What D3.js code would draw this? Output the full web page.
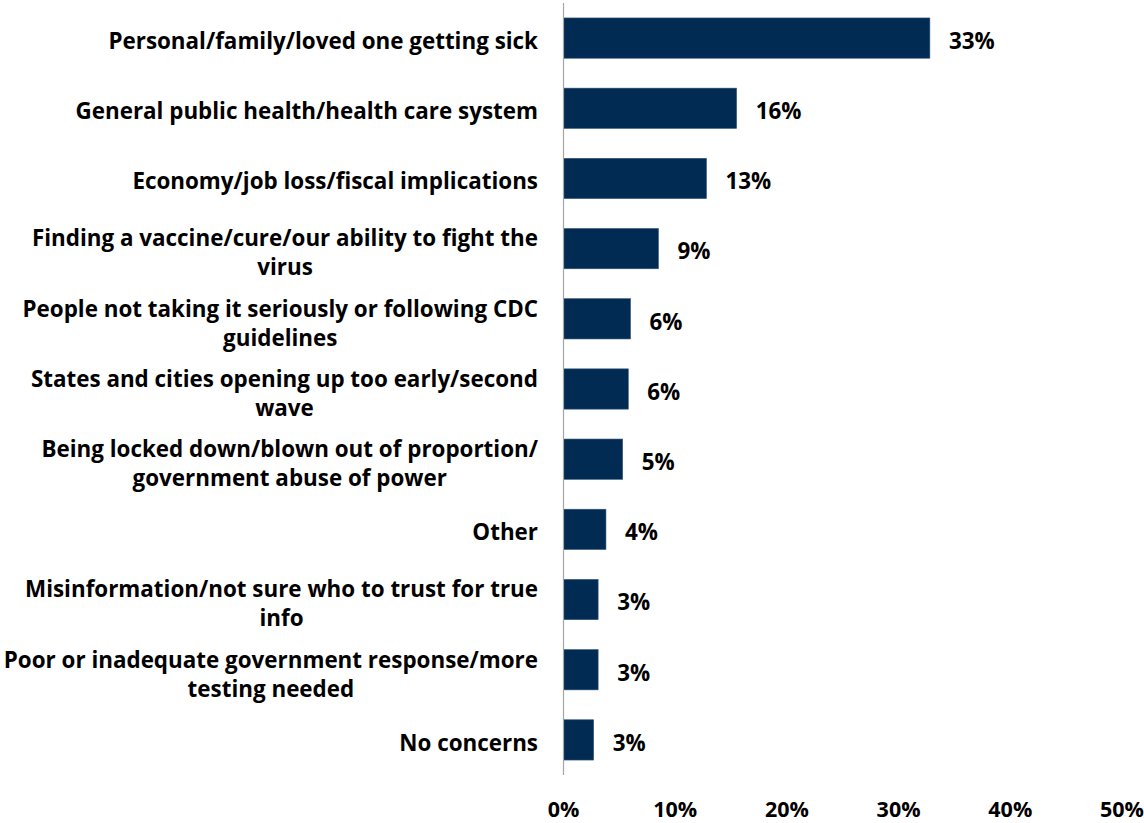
<!DOCTYPE html>
<html>
<head>
<meta charset="utf-8">
<script src="https://cdn.jsdelivr.net/npm/d3@7"></script>
<style>
  html, body { margin: 0; padding: 0; background: #fff; }
  text { font-family: "Open Sans", "Noto Sans", sans-serif; font-weight: bold; fill: #000; }
</style>
</head>
<body>
<svg id="chart" width="1144" height="823"></svg>
<script>
const categories = [
  ["Personal/family/loved one getting sick"],
  ["General public health/health care system"],
  ["Economy/job loss/fiscal implications"],
  ["Finding a vaccine/cure/our ability to fight the", "virus"],
  ["People not taking it seriously or following CDC", "guidelines"],
  ["States and cities opening up too early/second", "wave"],
  ["Being locked down/blown out of proportion/", "government abuse of power"],
  ["Other"],
  ["Misinformation/not sure who to trust for true", "info"],
  ["Poor or inadequate government response/more", "testing needed"],
  ["No concerns"]
];
const values = [32.8, 15.5, 12.8, 8.5, 6.0, 5.8, 5.3, 3.8, 3.1, 3.1, 2.7];
const valueLabels = ["33%", "16%", "13%", "9%", "6%", "6%", "5%", "4%", "3%", "3%", "3%"];
const xTicks = [0, 10, 20, 30, 40, 50];

const svg = d3.select("#chart");
const ids = categories.map((c, i) => i);

const x = d3.scaleLinear().domain([0, 50]).range([563.5, 1122]);
const y = d3.scaleBand().domain(ids).range([3, 775]).paddingInner(0.426).paddingOuter(0.213);

// bars
svg.append("g").selectAll("rect").data(values).join("rect")
  .attr("x", x(0))
  .attr("y", (d, i) => y(i))
  .attr("width", d => x(d) - x(0))
  .attr("height", y.bandwidth())
  .attr("fill", "#022b53")
  .attr("stroke", "#35577a")
  .attr("stroke-width", 0.6);

// axis line
svg.append("line")
  .attr("x1", x(0)).attr("x2", x(0))
  .attr("y1", y.range()[0]).attr("y2", y.range()[1])
  .attr("stroke", "#a6a6a6").attr("stroke-width", 1.2);

const FS = 22.4;
// value labels
svg.append("g").selectAll("text").data(values).join("text")
  .attr("x", d => x(d) + 19)
  .attr("y", (d, i) => y(i) + y.bandwidth() / 2 + 3)
  .attr("dy", "0.35em")
  .attr("font-size", FS)
  .text((d, i) => valueLabels[i]);

// category labels
const labelRight = 538;
const catG = svg.append("g");
categories.forEach((lines, i) => {
  const cy = y(i) + y.bandwidth() / 2 + (lines.length > 1 ? 4.5 : 3);
  const g = catG.append("g");
  const lh = 29;
  const texts = lines.map((ln, j) => g.append("text")
    .attr("font-size", FS)
    .attr("text-anchor", "middle")
    .attr("y", cy + (j - (lines.length - 1) / 2) * lh)
    .attr("dy", "0.35em")
    .text(ln));
  const w = d3.max(texts, t => t.node().getComputedTextLength());
  texts.forEach(t => t.attr("x", labelRight - w / 2));
});

// x axis tick labels
svg.append("g").selectAll("text").data(xTicks).join("text")
  .attr("x", d => x(d))
  .attr("y", 809)
  .attr("dy", "0.35em")
  .attr("text-anchor", "middle")
  .attr("font-size", 21.5)
  .text(d => d + "%");
</script>
</body>
</html>
